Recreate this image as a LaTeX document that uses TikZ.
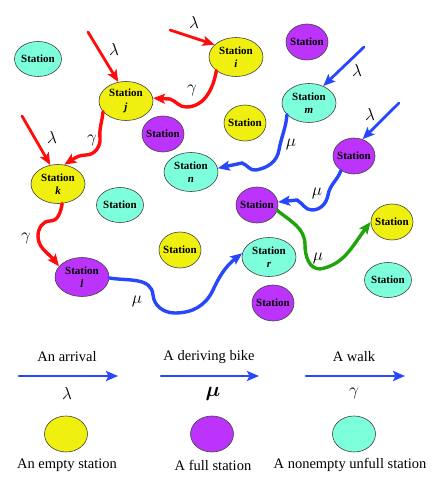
\documentclass[tikz,border=0pt]{standalone}
\usepackage{amsmath}
\usepackage{fontspec}
\setmainfont{Liberation Serif}
\usetikzlibrary{arrows.meta,shapes.geometric,bending}
\definecolor{bkyellow}{RGB}{240,240,16}
\definecolor{bkpurple}{RGB}{188,52,252}
\definecolor{bkcyan}{RGB}{126,255,220}
\definecolor{bkred}{RGB}{255,12,12}
\definecolor{bkblue}{RGB}{40,70,250}
\definecolor{bkgreen}{RGB}{30,165,10}
\tikzset{
  stbase/.style  ={ellipse,draw=black!75,line width=0.6pt,inner sep=0pt},
  stsmall/.style ={stbase,minimum width=42pt,minimum height=36pt},
  stwide/.style  ={stbase,minimum width=47pt,minimum height=35pt},
  stbig/.style   ={stbase,minimum width=54pt,minimum height=39pt},
  ystn/.style    ={fill=bkyellow},
  pstn/.style    ={fill=bkpurple},
  cstn/.style    ={fill=bkcyan},
  sttxt/.style   ={font=\fontsize{11}{13.5}\selectfont\bfseries,align=center,inner sep=0pt},
  bkline/.style  ={line width=2.8pt,line cap=round},
  bkarr/.style   ={bkline,-{Stealth[length=12pt,width=10pt,inset=2.5pt]}},
  redarr/.style  ={bkarr,bkred},
  bluearr/.style ={bkarr,bkblue},
  wave/.style    ={bkarr,line width=3.4pt},
  redwave/.style ={wave,bkred},
  bluewave/.style={wave,bkblue},
  greenwave/.style={wave,bkgreen},
  glab/.style    ={font=\fontsize{17.28}{19}\selectfont,inner sep=0pt},
  lgtxt/.style   ={font=\fontsize{14.5}{16}\selectfont,inner sep=0pt},
}
\newcommand{\station}[5]{\node[#2,label={[sttxt]center:{#5}}] (#1) at (#3,#4) {};}

\begin{document}
\begin{tikzpicture}[x=1pt,y=-1pt]
  \useasboundingbox (0,0) rectangle (436,481);
  % stations
  \station{ua}{stwide,cstn}{38}{59}{Station}
  \station{j}{stbig,ystn}{126}{101}{Station\\\textit{j}}
  \station{i}{stbig,ystn}{236}{57}{Station\\\textit{i}}
  \station{fa}{stsmall,pstn}{307}{42}{Station}
  \station{fb}{stsmall,pstn}{163}{134}{Station}
  \station{ea}{stsmall,ystn}{245}{123}{Station}
  \station{m}{stbig,cstn}{309}{103}{Station\\\textit{m}}
  \station{fc}{stsmall,pstn}{354}{156}{Station}
  \station{n}{stbig,cstn}{191}{172}{Station\\\textit{n}}
  \station{k}{stbig,ystn}{58}{184}{Station\\\textit{k}}
  \station{ub}{stwide,cstn}{120}{205}{Station}
  \station{eb}{stsmall,ystn}{180}{250}{Station}
  \station{l}{stbig,pstn}{82}{277}{Station\\\textit{l}}
  \station{fd}{stsmall,pstn}{257}{205}{Station}
  \station{ec}{stsmall,ystn}{392}{222}{Station}
  \station{r}{stbig,cstn}{269}{257}{Station\\\textit{r}}
  \station{fe}{stsmall,pstn}{273}{303}{Station}
  \station{uc}{stwide,cstn}{388}{280}{Station}
  % arrivals
  \coordinate (lj) at (88,32);
  \coordinate (li) at (170,30);
  \coordinate (lk) at (22,116);
  \coordinate (lm) at (364,47);
  \coordinate (lc) at (399,103);
  \draw[redarr] (lj) -- (j.112);
  \draw[redarr] (li) -- (i.150);
  \draw[redarr] (lk) -- (k.112);
  \draw[bluearr] (lm) -- (m.50);
  \draw[bluearr] (lc) -- (fc.63);
  \node[glab] (gj) at (114,50) {$\lambda$};
  \node[glab] (gi) at (194,23) {$\lambda$};
  \node[glab] (gk) at (52,137) {$\lambda$};
  \node[glab] (gm) at (357,71) {$\lambda$};
  \node[glab] (gc) at (370,115) {$\lambda$};
  % walks
  \draw[redwave] (i.215) to[out=-100,in=0] (186,107) to[out=180,in=-20] (170,99) -- (j.6);
  \draw[redwave] (j.205) to[out=-95,in=95] (100,138) to[out=-85,in=0] (86,155) to[out=180,in=30] (k.72);
  \draw[redwave] (k.-78) to[out=-100,in=0] (50,221) to[out=180,in=90] (38,236) to[out=-90,in=120] (l.155);
  \node[glab] (wj) at (192,90) {$\gamma$};
  \node[glab] (wk) at (92,140) {$\gamma$};
  \node[glab] (wl) at (26,238) {$\gamma$};
  % bikes
  \draw[bluewave] (l.-2) to[out=-10,in=95] (153,295) to[out=-85,in=180] (175,313) to[out=0,in=-115] (213,290) to[out=65,in=215] (r.172);
  \draw[bluewave] (m.208) to[out=-95,in=80] (279,150) to[out=-100,in=10] (256,170) to[out=190,in=-20] (242,163) -- (n.8);
  \draw[bluewave] (fc.228) to[out=-110,in=80] (328,195) to[out=-100,in=0] (312,210) to[out=180,in=-30] (297,200) -- (fd.8);
  \draw[greenwave] (fd.-15) to[out=-40,in=90] (305,245) to[out=-90,in=180] (320,269) to[out=10,in=230] (ec.180);
  \node[glab] (bl) at (137,301) {$\mu$};
  \node[glab] (bm) at (291,144) {$\mu$};
  \node[glab] (bc) at (317,193) {$\mu$};
  \node[glab] (bd) at (318,258) {$\mu$};
  % legend
  \coordinate (a1) at (19,376);  \coordinate (a2) at (118,376);
  \coordinate (b1) at (161,376); \coordinate (b2) at (259,376);
  \coordinate (c1) at (306,376); \coordinate (c2) at (405,376);
  \draw[bluearr] (a1) -- (a2);
  \draw[bluearr] (b1) -- (b2);
  \draw[bluearr] (c1) -- (c2);
  \node[lgtxt] (ta) at (67,357) {An arrival};
  \node[lgtxt] (tb) at (209,357) {A deriving bike};
  \node[lgtxt] (tc) at (354,357) {A walk};
  \node[glab] (ga) at (67,393) {$\lambda$};
  \node[glab,font=\fontsize{20.74}{22}\selectfont] (gb) at (213,394) {$\boldsymbol{\mu}$};
  \node[glab] (gd) at (354,393) {$\gamma$};
  \node[stbase,ystn,minimum width=43pt,minimum height=36pt] (ka) at (66,434) {};
  \node[stbase,pstn,minimum width=43pt,minimum height=36pt] (kb) at (212,434) {};
  \node[stbase,cstn,minimum width=43pt,minimum height=36pt] (kc) at (354,434) {};
  \node[lgtxt] (sa) at (67,465) {An empty station};
  \node[lgtxt] (sb) at (213,465) {A full station};
  \node[lgtxt] (sc) at (350,465) {A nonempty unfull station};
\end{tikzpicture}
\end{document}
